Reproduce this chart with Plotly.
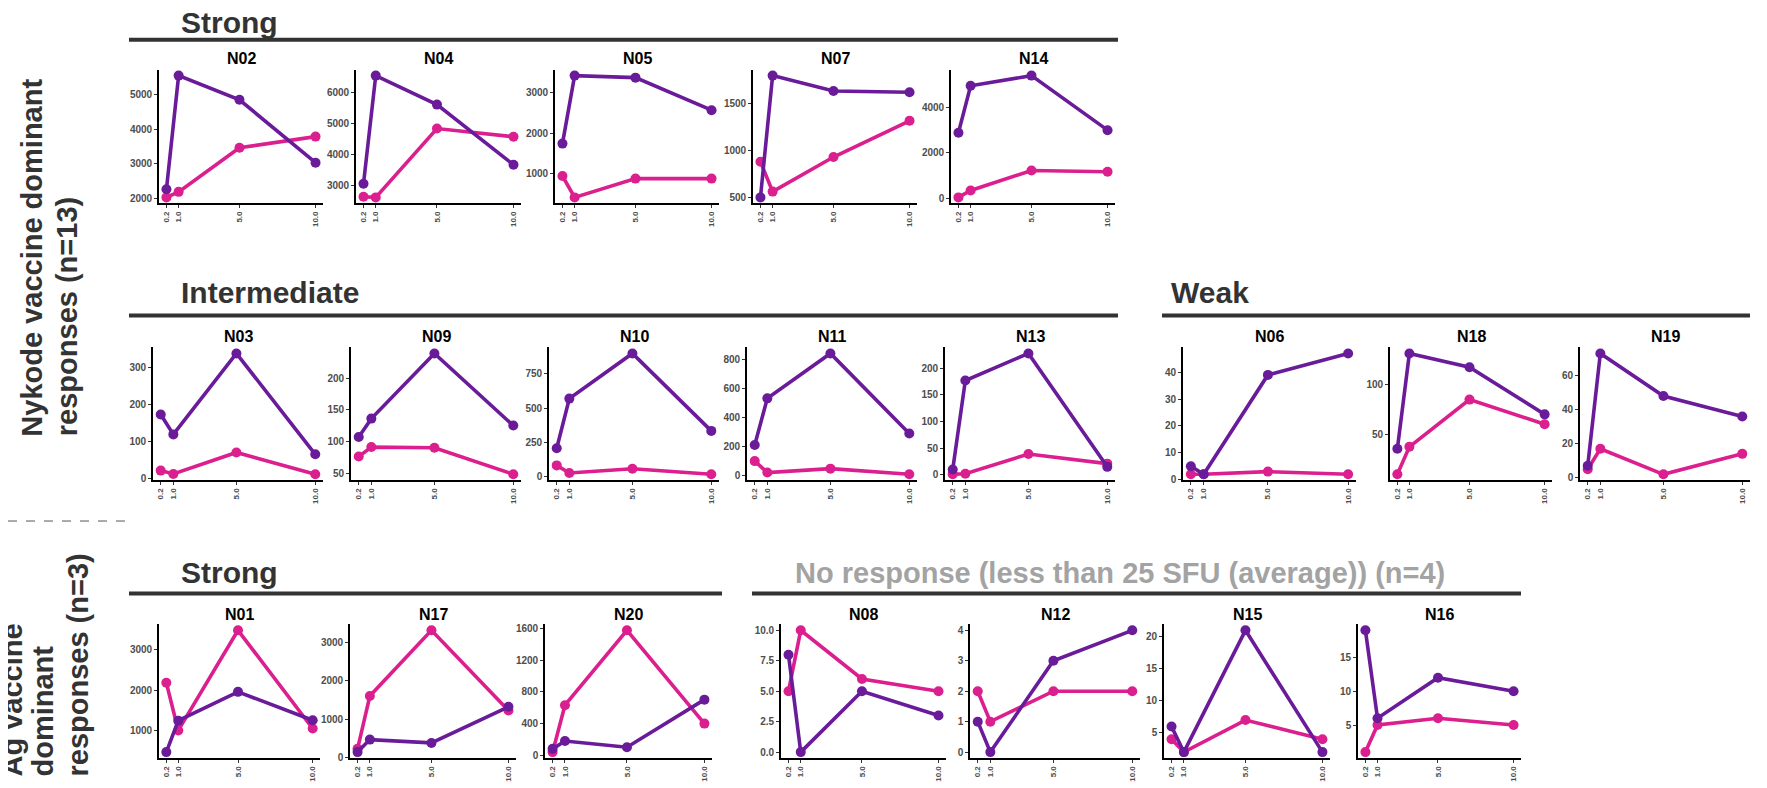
import plotly.graph_objects as go

W, H = 1767, 788
OFF = 8  # page body margin in the browser
FONT = "Liberation Sans, Arial, Helvetica, sans-serif"
PURPLE = "#6A1B9A"
PINK = "#DB1F8E"

# ---------------- data ----------------
doses = [0.2, 1.0, 5.0, 10.0]
dose_labels = ["0.2", "1.0", "5.0", "10.0"]

patients = ["N02", "N04", "N05", "N07", "N14",
            "N03", "N09", "N10", "N11", "N13",
            "N06", "N18", "N19",
            "N01", "N17", "N20",
            "N08", "N12", "N15", "N16"]

# Nykode vaccine (purple) SFU per dose
nykode_sfu = [
    [2260, 5550, 4850, 3030],
    [3070, 6540, 5610, 3680],
    [1740, 3430, 3380, 2570],
    [505, 1790, 1628, 1614],
    [2880, 4935, 5380, 2990],
    [174, 120, 339, 66],
    [107, 136, 239, 125],
    [207, 570, 900, 334],
    [213, 535, 845, 292],
    [10, 177, 228, 15],
    [5, 2, 39, 47],
    [35, 132, 118, 70],
    [7, 73, 48, 36],
    [474, 1250, 1960, 1259],
    [137, 463, 377, 1320],
    [82, 180, 103, 702],
    [8, 0, 5, 3],
    [1, 0, 3, 4],
    [6, 2, 21, 2],
    [19, 6, 12, 10],
]

# Ag vaccine (pink) SFU per dose
ag_sfu = [
    [2025, 2185, 3460, 3785],
    [2653, 2632, 4842, 4579],
    [934, 402, 869, 869],
    [882, 566, 931, 1313],
    [43, 345, 1223, 1165],
    [22, 13, 71, 12],
    [76, 91, 90, 48],
    [82, 27, 58, 17],
    [102, 23, 50, 11],
    [1, 2, 39, 21],
    [2, 2, 3, 2],
    [9, 37, 85, 60],
    [5, 17, 2, 14],
    [2186, 1008, 3478, 1057],
    [223, 1602, 3316, 1225],
    [41, 632, 1575, 400],
    [5, 10, 6, 5],
    [2, 1, 2, 2],
    [4, 2, 7, 4],
    [1, 5, 6, 5],
]

# y tick values per panel
y_ticks = [
    [2000, 3000, 4000, 5000],
    [3000, 4000, 5000, 6000],
    [1000, 2000, 3000],
    [500, 1000, 1500],
    [0, 2000, 4000],
    [0, 100, 200, 300],
    [50, 100, 150, 200],
    [0, 250, 500, 750],
    [0, 200, 400, 600, 800],
    [0, 50, 100, 150, 200],
    [0, 10, 20, 30, 40],
    [50, 100],
    [0, 20, 40, 60],
    [1000, 2000, 3000],
    [0, 1000, 2000, 3000],
    [0, 400, 800, 1200, 1600],
    [0, 2.5, 5, 7.5, 10],
    [0, 1, 2, 3, 4],
    [5, 10, 15, 20],
    [5, 10, 15],
]
y_ticktext = [
    None, None, None, None, None, None, None, None, None, None,
    None, None, None, None, None, None,
    ["0.0", "2.5", "5.0", "7.5", "10.0"], None, None, None,
]

group_titles = ["Strong", "Intermediate", "Weak", "Strong",
                "No response (less than 25 SFU (average)) (n=4)"]
nykode_title_lines = ["Nykode vaccine dominant", "responses (n=13)"]
ag_title_lines = ["Ag vaccine", "dominant", "responses (n=3)"]

# ---------------- layout (pixels in the page) ----------------
# (row, left, right) of each panel's plotting area
panel_px = [
    (0, 159, 323), (0, 356, 521), (0, 555, 719), (0, 753, 917), (0, 951, 1115),
    (1, 153, 323), (1, 351, 521), (1, 549, 719), (1, 747, 917), (1, 945, 1115),
    (1, 1183, 1356), (1, 1390, 1552), (1, 1580, 1750),
    (2, 159, 320), (2, 350, 516), (2, 545, 712),
    (2, 781, 946), (2, 970, 1140), (2, 1164, 1330), (2, 1358, 1521),
]
row_plot = [(69, 204), (349, 483), (628, 763)]
row_title_y = [58, 338, 618]

# headers: (text index, text x, text y, line x0, line x1, line y, color)
headers = [
    (0, 179, 22, 129, 1118, 39, "#333333"),
    (1, 179, 294, 129, 1118, 317, "#333333"),
    (2, 1169, 294, 1162, 1750, 317, "#333333"),
    (3, 179, 576, 129, 722, 597, "#333333"),
    (4, 793, 576, 752, 1521, 597, "#A3A3A3"),
]
# side title lines: centre x of each line, bottom (start) y of the block
nykode_line_x = [32, 67]
nykode_start_y = 441
ag_line_x = [12, 43, 78]
ag_start_y = 784

PW, PH = W - OFF, H - OFF


def fx(v):
    return (v - OFF) / PW


def fy(v):
    return 1 - (v - OFF) / PH


fig = go.Figure()
annotations = []
shapes = []

for i, p in enumerate(patients):
    k = i + 1
    xname = "x" if k == 1 else f"x{k}"
    yname = "y" if k == 1 else f"y{k}"
    row, left, right = panel_px[i]
    top, bottom = row_plot[row]

    fig.add_trace(go.Scatter(
        x=doses, y=ag_sfu[i], mode="lines+markers", name="Ag vaccine",
        line=dict(color=PINK, width=3.6), marker=dict(size=10, color=PINK),
        xaxis=xname, yaxis=yname, showlegend=False))
    fig.add_trace(go.Scatter(
        x=doses, y=nykode_sfu[i], mode="lines+markers", name="Nykode vaccine",
        line=dict(color=PURPLE, width=3.6), marker=dict(size=10, color=PURPLE),
        xaxis=xname, yaxis=yname, showlegend=False))

    vals = nykode_sfu[i] + ag_sfu[i]
    lo, hi = min(vals), max(vals)
    pad = 0.05 * (hi - lo)
    xpad = 0.05 * (doses[-1] - doses[0])

    xa = dict(domain=[fx(left), fx(right)], anchor=yname,
              range=[doses[0] - xpad, doses[-1] + xpad],
              tickmode="array", tickvals=doses, ticktext=dose_labels,
              tickangle=-90, showgrid=False, zeroline=False,
              showline=True, linecolor="black", linewidth=1.6,
              ticks="outside", ticklen=3, tickwidth=1, tickcolor="#333333",
              tickfont=dict(family=FONT, size=8, color="#4D4D4D", weight="bold"))
    ya = dict(domain=[fy(bottom), fy(top)], anchor=xname,
              range=[lo - pad, hi + pad],
              tickmode="array", tickvals=y_ticks[i],
              showgrid=False, zeroline=False,
              showline=True, linecolor="black", linewidth=1.6,
              ticks="outside", ticklen=3, tickwidth=1, tickcolor="#333333",
              tickfont=dict(family=FONT, size=10, color="#4D4D4D", weight="bold"))
    if y_ticktext[i] is not None:
        ya["ticktext"] = y_ticktext[i]
    key = "" if k == 1 else str(k)
    fig.update_layout(**{f"xaxis{key}": xa, f"yaxis{key}": ya})

    annotations.append(dict(
        text=p, x=fx((left + right) / 2), y=fy(row_title_y[row]),
        xref="paper", yref="paper", xanchor="center", yanchor="middle",
        showarrow=False,
        font=dict(family=FONT, size=16, color="black", weight="bold")))

for ti, tx, ty, lx0, lx1, ly, col in headers:
    annotations.append(dict(
        text=group_titles[ti], x=fx(tx), y=fy(ty), xref="paper", yref="paper",
        xanchor="left", yanchor="middle", showarrow=False,
        font=dict(family=FONT, size=30 if ti < 4 else 29, color=col, weight="bold")))
    shapes.append(dict(type="line", xref="paper", yref="paper",
                       x0=fx(lx0), x1=fx(lx1), y0=fy(ly), y1=fy(ly),
                       line=dict(color="#333333", width=4)))

# dashed separator
shapes.append(dict(type="line", xref="paper", yref="paper",
                   x0=0, x1=fx(130), y0=fy(524), y1=fy(524),
                   line=dict(color="#555555", width=1, dash="dash")))

# side titles, one annotation per line, all starting at the same bottom edge
for lines, xs, y0 in ((nykode_title_lines, nykode_line_x, nykode_start_y),
                      (ag_title_lines, ag_line_x, ag_start_y)):
    for txt, lx in zip(lines, xs):
        annotations.append(dict(
            text=txt, x=fx(lx), y=fy(y0), xref="paper", yref="paper",
            xanchor="center", yanchor="bottom", showarrow=False, textangle=-90,
            font=dict(family=FONT, size=29, color="#333333", weight="bold")))

fig.update_layout(
    width=PW, height=PH, margin=dict(l=0, r=0, t=0, b=0),
    paper_bgcolor="white", plot_bgcolor="white",
    annotations=annotations, shapes=shapes, showlegend=False,
    font=dict(family=FONT),
)

fig.write_html("out.html")
